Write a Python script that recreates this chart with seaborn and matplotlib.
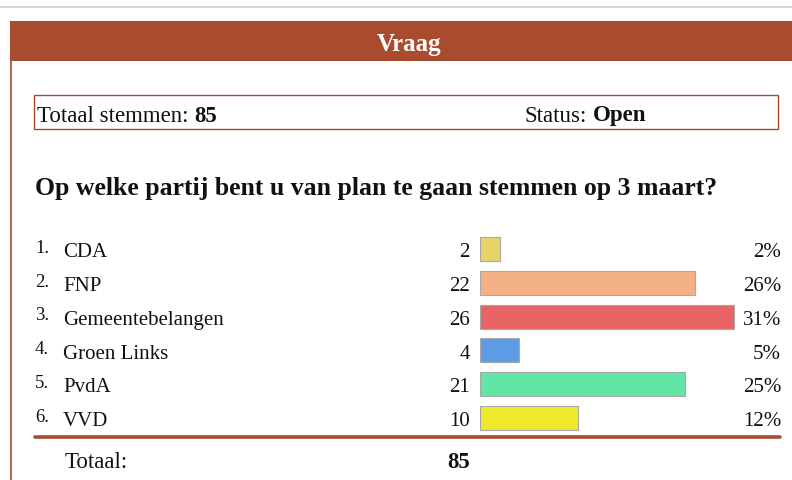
import numpy as np
import pandas as pd
import matplotlib.pyplot as plt
import matplotlib.transforms as mtransforms
from matplotlib.patches import Rectangle
import seaborn as sns

# poll data
parties = ['CDA', 'FNP', 'Gemeentebelangen', 'Groen Links', 'PvdA', 'VVD']
votes = [2, 22, 26, 4, 21, 10]
colors = ['#E6D466', '#F3B183', '#E76565', '#5E9BE6', '#63E5A6', '#EEE92B']
total_votes = 85
status = 'Open'
question = 'Op welke partij bent u van plan te gaan stemmen op 3 maart?'

df = pd.DataFrame({'partij': parties, 'stemmen': votes})
df['pct'] = (df['stemmen'] / total_votes * 100).round().astype(int)

W, H = 792, 481
brown = '#A94B2F'
ink = '#111111'

sns.set_style('white')
plt.rcParams['font.family'] = 'serif'
plt.rcParams['font.serif'] = ['Liberation Serif', 'DejaVu Serif']

fig = plt.figure(figsize=(W / 100, H / 100), dpi=100)


def fx(x):
    return x / W


def fy(y):
    return 1 - y / H


def label_pair(x, y, normal, bold, size):
    # plain label followed by a bold value
    t = fig.text(fx(x), fy(y), normal, fontsize=size, va='center', color=ink)
    plt.annotate(bold, xy=(1, 0), xycoords=t, xytext=(4, 0),
                 textcoords='offset points', fontsize=size, fontweight='bold',
                 va='bottom', color=ink, annotation_clip=False)


# page decoration
fig.add_artist(plt.Line2D([0, 1], [fy(8), fy(8)], color='#C9CED8', lw=1.2))
fig.add_artist(Rectangle((fx(10), fy(62)), 1, (62 - 22) / H, color=brown, lw=0))
fig.add_artist(plt.Line2D([fx(11), fx(11)], [fy(62), 0], color=brown, lw=1.2))
fig.text(fx(409), fy(44), 'Vraag', color='white', fontsize=18, fontweight='bold',
         ha='center', va='center')

# status box
fig.add_artist(Rectangle((fx(34), fy(130)), (778 - 34) / W, (130 - 96) / H,
                         fill=False, edgecolor=brown, lw=1))

fig.text(fx(35), fy(188), question, fontsize=18.5, fontweight='bold', va='center',
         color=ink)

# bars
ax = fig.add_axes([fx(480), fy(436), (780 - 480) / W, (436 - 233) / H])
sns.barplot(data=df, x='stemmen', y='partij', hue='partij', palette=colors,
            saturation=1, orient='h', width=0.71, edgecolor='#A8A8A8',
            linewidth=0.8, legend=False, ax=ax)
ax.set_xlim(0, 300 / 9.77)
ax.set_ylim(5.5, -0.5)
ax.axis('off')

label_pair(37, 116, 'Totaal stemmen:', str(total_votes), 16.5)
label_pair(525, 116, 'Status:', status, 16.5)

trans = mtransforms.blended_transform_factory(fig.transFigure, ax.transData)
for i, row in df.iterrows():
    ax.text(fx(35), i - 0.05, f'{i + 1}.', transform=trans, fontsize=13.5,
            va='center', color=ink)
    ax.text(fx(63), i + 0.08, row['partij'], transform=trans, fontsize=15,
            va='center', color=ink)
    ax.text(fx(470), i + 0.08, str(row['stemmen']), transform=trans, fontsize=15,
            va='center', ha='right', color=ink)
    ax.text(fx(781), i + 0.08, f"{row['pct']}%", transform=trans, fontsize=15,
            va='center', ha='right', color=ink)

# total row
fig.add_artist(plt.Line2D([fx(35), fx(780)], [fy(438), fy(438)], color=brown, lw=2.6))
fig.text(fx(65), fy(462), 'Totaal:', fontsize=16.5, va='center', color=ink)
fig.text(fx(470), fy(462), str(total_votes), fontsize=16.5, fontweight='bold',
         va='center', ha='right', color=ink)

fig.savefig('out.png', dpi=100)
